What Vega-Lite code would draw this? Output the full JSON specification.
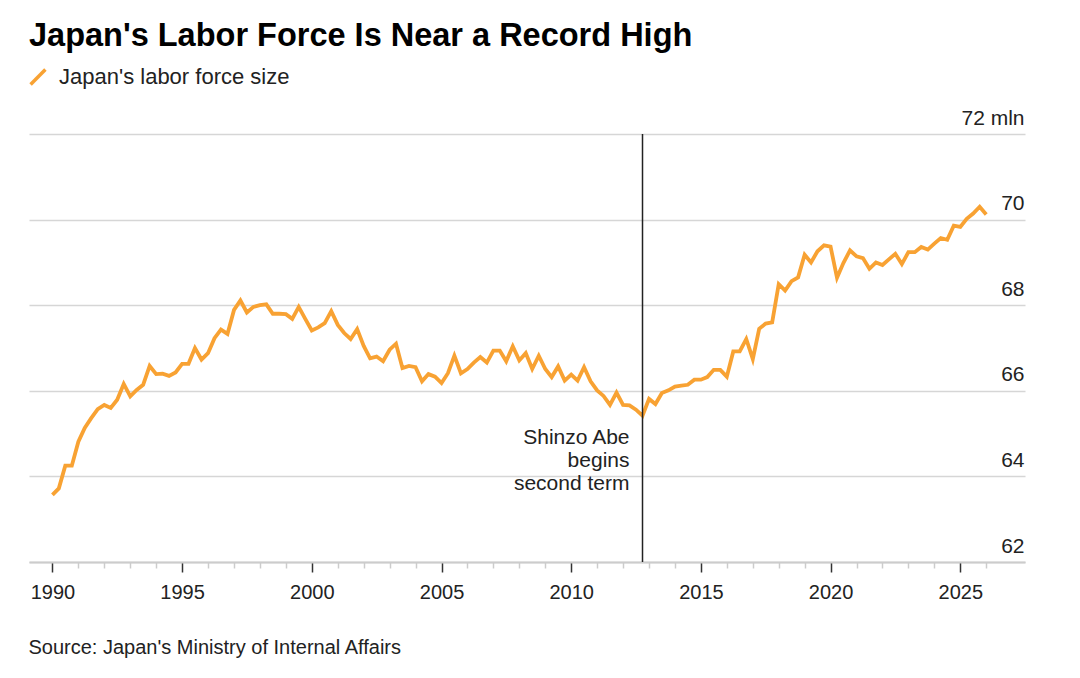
{
  "$schema": "https://vega.github.io/schema/vega-lite/v6.json",
  "width": 996,
  "height": 428,
  "autosize": {"type": "none"},
  "padding": {"left": 29, "top": 134, "right": 55, "bottom": 116},
  "background": "white",
  "title": {
    "text": "Japan's Labor Force Is Near a Record High",
    "anchor": "start",
    "frame": "group",
    "fontSize": 32.5,
    "fontWeight": "bold",
    "font": "Liberation Sans",
    "color": "#000000",
    "offset": 14
  },
  "datasets": {
    "labor": [
      {"date": "1990-01-01", "value": 63.57}, {"date": "1990-04-01", "value": 63.72}, {"date": "1990-07-01", "value": 64.25}, {"date": "1990-10-01", "value": 64.25},
      {"date": "1991-01-01", "value": 64.81}, {"date": "1991-04-01", "value": 65.13}, {"date": "1991-07-01", "value": 65.36}, {"date": "1991-10-01", "value": 65.57},
      {"date": "1992-01-01", "value": 65.67}, {"date": "1992-04-01", "value": 65.60}, {"date": "1992-07-01", "value": 65.79}, {"date": "1992-10-01", "value": 66.16},
      {"date": "1993-01-01", "value": 65.87}, {"date": "1993-04-01", "value": 66.02}, {"date": "1993-07-01", "value": 66.14}, {"date": "1993-10-01", "value": 66.58},
      {"date": "1994-01-01", "value": 66.39}, {"date": "1994-04-01", "value": 66.40}, {"date": "1994-07-01", "value": 66.35}, {"date": "1994-10-01", "value": 66.43},
      {"date": "1995-01-01", "value": 66.63}, {"date": "1995-04-01", "value": 66.63}, {"date": "1995-07-01", "value": 67.00}, {"date": "1995-10-01", "value": 66.73},
      {"date": "1996-01-01", "value": 66.88}, {"date": "1996-04-01", "value": 67.23}, {"date": "1996-07-01", "value": 67.43}, {"date": "1996-10-01", "value": 67.33},
      {"date": "1997-01-01", "value": 67.89}, {"date": "1997-04-01", "value": 68.11}, {"date": "1997-07-01", "value": 67.83}, {"date": "1997-10-01", "value": 67.96},
      {"date": "1998-01-01", "value": 68.00}, {"date": "1998-04-01", "value": 68.02}, {"date": "1998-07-01", "value": 67.80}, {"date": "1998-10-01", "value": 67.80},
      {"date": "1999-01-01", "value": 67.79}, {"date": "1999-04-01", "value": 67.68}, {"date": "1999-07-01", "value": 67.96}, {"date": "1999-10-01", "value": 67.68},
      {"date": "2000-01-01", "value": 67.41}, {"date": "2000-04-01", "value": 67.48}, {"date": "2000-07-01", "value": 67.58}, {"date": "2000-10-01", "value": 67.86},
      {"date": "2001-01-01", "value": 67.54}, {"date": "2001-04-01", "value": 67.35}, {"date": "2001-07-01", "value": 67.21}, {"date": "2001-10-01", "value": 67.44},
      {"date": "2002-01-01", "value": 67.05}, {"date": "2002-04-01", "value": 66.76}, {"date": "2002-07-01", "value": 66.80}, {"date": "2002-10-01", "value": 66.69},
      {"date": "2003-01-01", "value": 66.96}, {"date": "2003-04-01", "value": 67.10}, {"date": "2003-07-01", "value": 66.53}, {"date": "2003-10-01", "value": 66.58},
      {"date": "2004-01-01", "value": 66.55}, {"date": "2004-04-01", "value": 66.22}, {"date": "2004-07-01", "value": 66.39}, {"date": "2004-10-01", "value": 66.33},
      {"date": "2005-01-01", "value": 66.18}, {"date": "2005-04-01", "value": 66.41}, {"date": "2005-07-01", "value": 66.82}, {"date": "2005-10-01", "value": 66.41},
      {"date": "2006-01-01", "value": 66.51}, {"date": "2006-04-01", "value": 66.66}, {"date": "2006-07-01", "value": 66.79}, {"date": "2006-10-01", "value": 66.66},
      {"date": "2007-01-01", "value": 66.94}, {"date": "2007-04-01", "value": 66.94}, {"date": "2007-07-01", "value": 66.69}, {"date": "2007-10-01", "value": 67.04},
      {"date": "2008-01-01", "value": 66.71}, {"date": "2008-04-01", "value": 66.88}, {"date": "2008-07-01", "value": 66.51}, {"date": "2008-10-01", "value": 66.82},
      {"date": "2009-01-01", "value": 66.51}, {"date": "2009-04-01", "value": 66.32}, {"date": "2009-07-01", "value": 66.57}, {"date": "2009-10-01", "value": 66.24},
      {"date": "2010-01-01", "value": 66.38}, {"date": "2010-04-01", "value": 66.24}, {"date": "2010-07-01", "value": 66.55}, {"date": "2010-10-01", "value": 66.22},
      {"date": "2011-01-01", "value": 66.01}, {"date": "2011-04-01", "value": 65.88}, {"date": "2011-07-01", "value": 65.67}, {"date": "2011-10-01", "value": 65.96},
      {"date": "2012-01-01", "value": 65.67}, {"date": "2012-04-01", "value": 65.66}, {"date": "2012-07-01", "value": 65.56}, {"date": "2012-10-01", "value": 65.42},
      {"date": "2013-01-01", "value": 65.81}, {"date": "2013-04-01", "value": 65.69}, {"date": "2013-07-01", "value": 65.95}, {"date": "2013-10-01", "value": 66.01},
      {"date": "2014-01-01", "value": 66.10}, {"date": "2014-04-01", "value": 66.12}, {"date": "2014-07-01", "value": 66.14}, {"date": "2014-10-01", "value": 66.26},
      {"date": "2015-01-01", "value": 66.26}, {"date": "2015-04-01", "value": 66.32}, {"date": "2015-07-01", "value": 66.49}, {"date": "2015-10-01", "value": 66.49},
      {"date": "2016-01-01", "value": 66.33}, {"date": "2016-04-01", "value": 66.92}, {"date": "2016-07-01", "value": 66.92}, {"date": "2016-10-01", "value": 67.21},
      {"date": "2017-01-01", "value": 66.74}, {"date": "2017-04-01", "value": 67.45}, {"date": "2017-07-01", "value": 67.57}, {"date": "2017-10-01", "value": 67.60},
      {"date": "2018-01-01", "value": 68.49}, {"date": "2018-04-01", "value": 68.34}, {"date": "2018-07-01", "value": 68.56}, {"date": "2018-10-01", "value": 68.65},
      {"date": "2019-01-01", "value": 69.18}, {"date": "2019-04-01", "value": 69.00}, {"date": "2019-07-01", "value": 69.26}, {"date": "2019-10-01", "value": 69.40},
      {"date": "2020-01-01", "value": 69.37}, {"date": "2020-04-01", "value": 68.64}, {"date": "2020-07-01", "value": 68.99}, {"date": "2020-10-01", "value": 69.28},
      {"date": "2021-01-01", "value": 69.14}, {"date": "2021-04-01", "value": 69.10}, {"date": "2021-07-01", "value": 68.85}, {"date": "2021-10-01", "value": 69.00},
      {"date": "2022-01-01", "value": 68.94}, {"date": "2022-04-01", "value": 69.07}, {"date": "2022-07-01", "value": 69.20}, {"date": "2022-10-01", "value": 68.96},
      {"date": "2023-01-01", "value": 69.24}, {"date": "2023-04-01", "value": 69.24}, {"date": "2023-07-01", "value": 69.36}, {"date": "2023-10-01", "value": 69.30},
      {"date": "2024-01-01", "value": 69.44}, {"date": "2024-04-01", "value": 69.57}, {"date": "2024-07-01", "value": 69.53}, {"date": "2024-10-01", "value": 69.86},
      {"date": "2025-01-01", "value": 69.83}, {"date": "2025-04-01", "value": 70.02}, {"date": "2025-07-01", "value": 70.14}, {"date": "2025-10-01", "value": 70.30},
      {"date": "2026-01-01", "value": 70.12}
    ],
    "event": [
      {"date": "2012-10-01", "value": 64.75, "label": ["Shinzo Abe", "begins", "second term"]}
    ]
  },
  "encoding": {
    "x": {
      "field": "date",
      "type": "temporal",
      "scale": {
        "type": "utc",
        "domain": [{"year": 1989, "month": 2, "date": 5, "utc": true}, {"year": 2027, "month": 7, "date": 1, "utc": true}]
      },
      "axis": {
        "title": "Source: Japan's Ministry of Internal Affairs",
        "titleAnchor": "start",
        "titleAlign": "left",
        "titleBaseline": "alphabetic",
        "titleX": -1,
        "titleY": 91,
        "titleFontSize": 20,
        "titleFontWeight": "normal",
        "titleColor": "#222222",
        "titleFont": "Liberation Sans",
        "tickCount": {"interval": "year", "step": 1},
        "values": [
          631152000000, 662688000000, 694224000000, 725846400000, 757382400000,
          788918400000, 820454400000, 852076800000, 883612800000, 915148800000,
          946684800000, 978307200000, 1009843200000, 1041379200000, 1072915200000,
          1104537600000, 1136073600000, 1167609600000, 1199145600000, 1230768000000,
          1262304000000, 1293840000000, 1325376000000, 1356998400000, 1388534400000,
          1420070400000, 1451606400000, 1483228800000, 1514764800000, 1546300800000,
          1577836800000, 1609459200000, 1640995200000, 1672531200000, 1704067200000,
          1735689600000, 1767225600000
        ],
        "labelExpr": "utcyear(datum.value) % 5 == 0 ? utcFormat(datum.value, '%Y') : ''",
        "labelOverlap": false,
        "labelFlush": false,
        "labelFontSize": 20,
        "labelColor": "#222222",
        "labelFont": "Liberation Sans",
        "labelPadding": 10,
        "tickColor": {"condition": {"test": "utcyear(datum.value) % 5 == 0", "value": "#333333"}, "value": "#cccccc"},
        "tickSize": {"condition": {"test": "utcyear(datum.value) % 5 == 0", "value": 10}, "value": 6},
        "tickWidth": 1.5,
        "domainColor": "#cccccc",
        "domainWidth": 2,
        "grid": false
      }
    }
  },
  "layer": [
    {
      "data": {"name": "labor"},
      "mark": {"type": "line", "strokeWidth": 3.8, "strokeJoin": "miter", "strokeCap": "butt"},
      "encoding": {
        "y": {
          "field": "value",
          "type": "quantitative",
          "scale": {"domain": [62, 72], "nice": false, "zero": false},
          "axis": {
            "orient": "right",
            "title": null,
            "values": [62, 64, 66, 68, 70, 72],
            "domain": false,
            "ticks": false,
            "grid": true,
            "gridColor": "#d6d6d6",
            "gridWidth": 1.5,
            "labelAlign": "right",
            "labelBaseline": "alphabetic",
            "labelPadding": -1,
            "labelOffset": -10,
            "labelExpr": "datum.value == 72 ? '72 mln' : datum.label",
            "labelFontSize": 21,
            "labelColor": "#222222",
            "labelFont": "Liberation Sans"
          }
        },
        "color": {
          "datum": "Japan's labor force size",
          "scale": {"range": ["#f8a233"]},
          "legend": {
            "orient": "none",
            "legendX": -2,
            "legendY": -68,
            "title": null,
            "symbolType": "M-1,1L1,-1",
            "symbolSize": 220,
            "symbolStrokeWidth": 3.5,
            "labelFontSize": 22,
            "labelLimit": 0,
            "labelColor": "#222222",
            "labelFont": "Liberation Sans",
            "labelOffset": 10
          }
        }
      }
    },
    {
      "data": {"name": "event"},
      "mark": {"type": "rule", "color": "#222222", "strokeWidth": 1.5},
      "encoding": {}
    },
    {
      "data": {"name": "event"},
      "mark": {"type": "text", "align": "right", "baseline": "alphabetic", "dx": -13, "fontSize": 21, "lineHeight": 23, "color": "#222222", "font": "Liberation Sans"},
      "encoding": {
        "y": {"field": "value", "type": "quantitative"},
        "text": {"field": "label"}
      }
    }
  ],
  "config": {
    "view": {"stroke": null},
    "font": "Liberation Sans"
  }
}
